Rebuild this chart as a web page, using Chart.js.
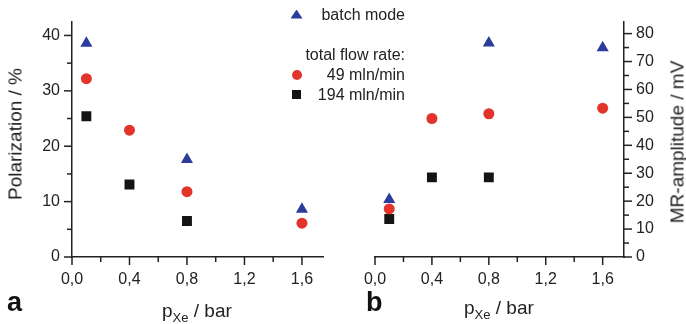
<!DOCTYPE html>
<html>
<head>
<meta charset="utf-8">
<script src="https://cdn.jsdelivr.net/npm/chart.js@4"></script>
<style>
  body { margin: 0; background: #fff; }
  #wrap { position: relative; width: 686px; height: 324px; font-family: 'Liberation Sans', Arial, sans-serif; color: #222; }
  #wrap canvas { position: absolute; left: 0; top: 0; }
  .txt { position: absolute; white-space: nowrap; }
  .ytitle { font-size: 19px; line-height: 19px; transform: translate(-50%, -50%) rotate(-90deg); }
  .xtitle { font-size: 19px; line-height: 19px; }
  .xtitle span { font-size: 13px; position: relative; top: 5px; }
  .panel { font-size: 27px; line-height: 27px; font-weight: bold; color: #111; }
  .leg { font-size: 16px; line-height: 16px; text-align: right; width: 120px; }
  .mk { position: absolute; }
</style>
</head>
<body>
<div id="wrap">
  <canvas id="chartA" width="686" height="324"></canvas>
  <canvas id="chartB" width="686" height="324"></canvas>

  <div class="txt ytitle" style="left:15px; top:134px;">Polarization / %</div>
  <div class="txt ytitle" style="left:677px; top:142px;">MR-amplitude / mV</div>
  <div class="txt xtitle" style="left:162px; top:301px;">p<span>Xe</span> / bar</div>
  <div class="txt xtitle" style="left:464px; top:298px;">p<span>Xe</span> / bar</div>
  <div class="txt panel" style="left:7px; top:289px;">a</div>
  <div class="txt panel" style="left:366px; top:289px;">b</div>

  <div class="mk" style="left:290.5px; top:9.5px; width:12px; height:9px; background:#2b3d9c; clip-path:polygon(50% 0,100% 100%,0 100%);"></div>
  <div class="mk" style="left:291.5px; top:69.5px; width:10px; height:10px; border-radius:50%; background:#e3342b;"></div>
  <div class="mk" style="left:292px; top:90px; width:9px; height:9px; background:#141414;"></div>
  <div class="txt leg" style="left:285px; top:7px;">batch mode</div>
  <div class="txt leg" style="left:285px; top:46.5px;">total flow rate:</div>
  <div class="txt leg" style="left:285px; top:66.5px;">49 mln/min</div>
  <div class="txt leg" style="left:285px; top:86.5px;">194 mln/min</div>
</div>

<script>
// p_Xe in bar
const pressures = [0.1, 0.4, 0.8, 1.6];

// panel a: polarization / %
const polBatch = [38.6, null, 17.6, 8.6];
const pol49    = [32.2, 22.9, 11.8, 6.1];
const pol194   = [25.4, 13.1, 6.5, null];

// panel b: MR-amplitude / mV
const mrBatch = [20.6, null, 76.6, 74.9];
const mr49    = [17.2, 49.6, 51.3, 53.3];
const mr194   = [13.6, 28.5, 28.5, null];

const BLUE  = '#2b3d9c';
const RED   = '#e3342b';
const BLACK = '#141414';
const AXIS  = '#222';
const FONT  = { family: "'Liberation Sans', Arial, sans-serif", size: 16 };

function points(ys) {
  return pressures.map((x, i) => ({ x, y: ys[i] })).filter(p => p.y != null);
}

function isMultiple(v, step) {
  const r = v / step;
  return Math.abs(r - Math.round(r)) < 1e-6;
}

// Origin-style outward ticks, long on labelled values, short in between
const tickMarks = {
  id: 'tickMarks',
  afterDraw(chart) {
    const ctx = chart.ctx;
    ctx.save();
    ctx.strokeStyle = AXIS;
    ctx.lineWidth = 1.5;
    for (const scale of Object.values(chart.scales)) {
      const major = scale.options.majorStep;
      for (const t of scale.ticks) {
        const len = isMultiple(t.value, major) ? 8 : 5;
        const p = scale.getPixelForValue(t.value);
        ctx.beginPath();
        if (scale.axis === 'x') {
          ctx.moveTo(p, scale.top);
          ctx.lineTo(p, scale.top + len);
        } else if (scale.position === 'left') {
          ctx.moveTo(scale.right, p);
          ctx.lineTo(scale.right - len, p);
        } else {
          ctx.moveTo(scale.left, p);
          ctx.lineTo(scale.left + len, p);
        }
        ctx.stroke();
      }
    }
    ctx.restore();
  },
};

function datasets(batch, flow49, flow194) {
  const base = { showLine: false, borderWidth: 0 };
  return [
    { ...base, label: 'batch mode', data: points(batch), pointStyle: 'triangle', pointRadius: 7, backgroundColor: BLUE, borderColor: BLUE },
    { ...base, label: '49 mln/min', data: points(flow49), pointStyle: 'circle', pointRadius: 5.5, backgroundColor: RED, borderColor: RED },
    { ...base, label: '194 mln/min', data: points(flow194), pointStyle: 'rect', pointRadius: 7, backgroundColor: BLACK, borderColor: BLACK },
  ];
}

function xScale() {
  return {
    type: 'linear',
    min: 0, max: 1.75,
    majorStep: 0.4,
    afterFit: s => { s.height = 67; },
    ticks: {
      stepSize: 0.2,
      includeBounds: false,
      autoSkip: false,
      maxRotation: 0,
      padding: 13,
      color: AXIS,
      font: FONT,
      callback: v => isMultiple(v, 0.4) ? v.toFixed(1).replace('.', ',') : '',
    },
    grid: { display: true, drawOnChartArea: false, drawTicks: false },
    border: { display: true, color: AXIS, width: 1.5 },
  };
}

function yScale(max, position, width) {
  return {
    type: 'linear',
    position,
    min: 0, max,
    majorStep: 10,
    afterFit: s => { s.width = width; },
    ticks: {
      stepSize: 5,
      includeBounds: false,
      autoSkip: false,
      padding: 12,
      color: AXIS,
      font: FONT,
      callback: v => isMultiple(v, 10) ? String(v) : '',
    },
    grid: { display: true, drawOnChartArea: false, drawTicks: false },
    border: { display: true, color: AXIS, width: 1.5 },
  };
}

function makeChart(id, sets, yCfg, padding) {
  return new Chart(document.getElementById(id), {
    type: 'scatter',
    data: { datasets: sets },
    options: {
      responsive: false,
      animation: false,
      layout: { padding },
      plugins: { legend: { display: false }, tooltip: { enabled: false } },
      scales: { x: xScale(), y: yCfg },
    },
    plugins: [tickMarks],
  });
}

makeChart('chartA', datasets(polBatch, pol49, pol194),
  yScale(42.5, 'left', 72), { left: 0, top: 6, right: 362.5, bottom: 0 });
makeChart('chartB', datasets(mrBatch, mr49, mr194),
  yScale(84.3, 'right', 62), { left: 375, top: 7, right: 0, bottom: 0 });
</script>
</body>
</html>
